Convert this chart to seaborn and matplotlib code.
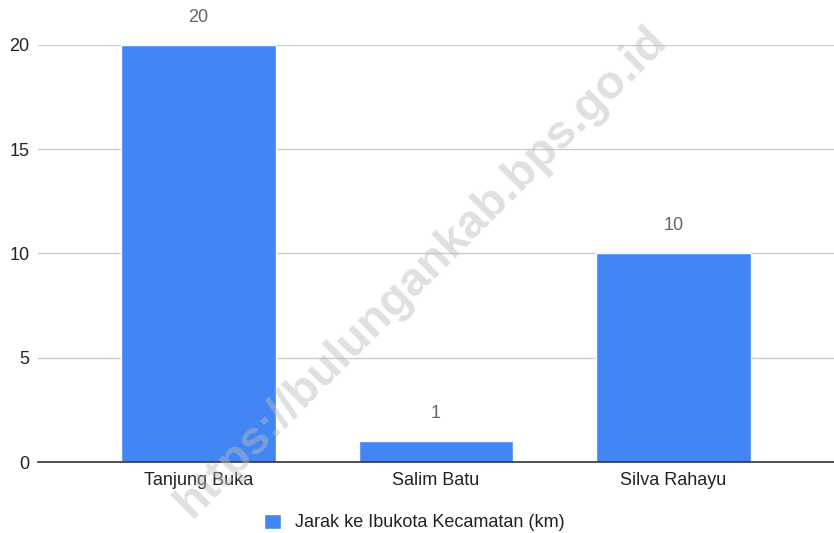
import pandas as pd
import matplotlib.pyplot as plt
import seaborn as sns

# Data
desa = ['Tanjung Buka', 'Salim Batu', 'Silva Rahayu']
jarak = [20, 1, 10]
seri = 'Jarak ke Ibukota Kecamatan (km)'

df = pd.DataFrame({'Desa': desa, 'Jarak': jarak})

sns.set_theme(style="white")
plt.rcParams['font.family'] = ['Liberation Sans', 'DejaVu Sans']

fig = plt.figure(figsize=(8.34, 5.33), dpi=100)
ax = fig.add_axes([0.0456, 0.1332, 0.9544, 0.7824])

sns.barplot(x='Desa', y='Jarak', data=df, ax=ax, color='#4285F4',
            width=0.65, saturation=1, label=seri, zorder=3)

# Labels di atas batang
for i, v in enumerate(jarak):
    ax.annotate(str(v), (i, v), xytext=(0, 20), textcoords='offset points',
                ha='center', va='center', fontsize=13, color='#666666',
                annotation_clip=False)

ax.set_xlim(-0.675, 2.675)
ax.set_ylim(0, 20)
ax.set_yticks([0, 5, 10, 15, 20])
ax.yaxis.grid(True, color='#cccccc', linewidth=1, zorder=0)
ax.set_axisbelow(True)
for s in ['top', 'right', 'left']:
    ax.spines[s].set_visible(False)
ax.spines['bottom'].set_color('#333333')
ax.spines['bottom'].set_linewidth(1.2)
ax.spines['bottom'].set_zorder(4)
ax.tick_params(axis='both', length=0, labelsize=13, colors='#222222')
ax.tick_params(axis='x', pad=7)
ax.tick_params(axis='y', pad=6)
ax.set_xlabel('')
ax.set_ylabel('')

leg = ax.legend(loc='upper center', bbox_to_anchor=(0.473, -0.085), frameon=False,
                fontsize=13, handlelength=0.9, handleheight=0.9, handletextpad=0.8)
for t in leg.get_texts():
    t.set_color('#222222')

# Watermark
fig.text(0.505, 0.49, 'https://bulungankab.bps.go.id', rotation=45,
         ha='center', va='center', fontsize=34, fontweight='bold',
         color='#bbbbbb', alpha=0.45, zorder=10)

plt.savefig('out.png', dpi=100)
